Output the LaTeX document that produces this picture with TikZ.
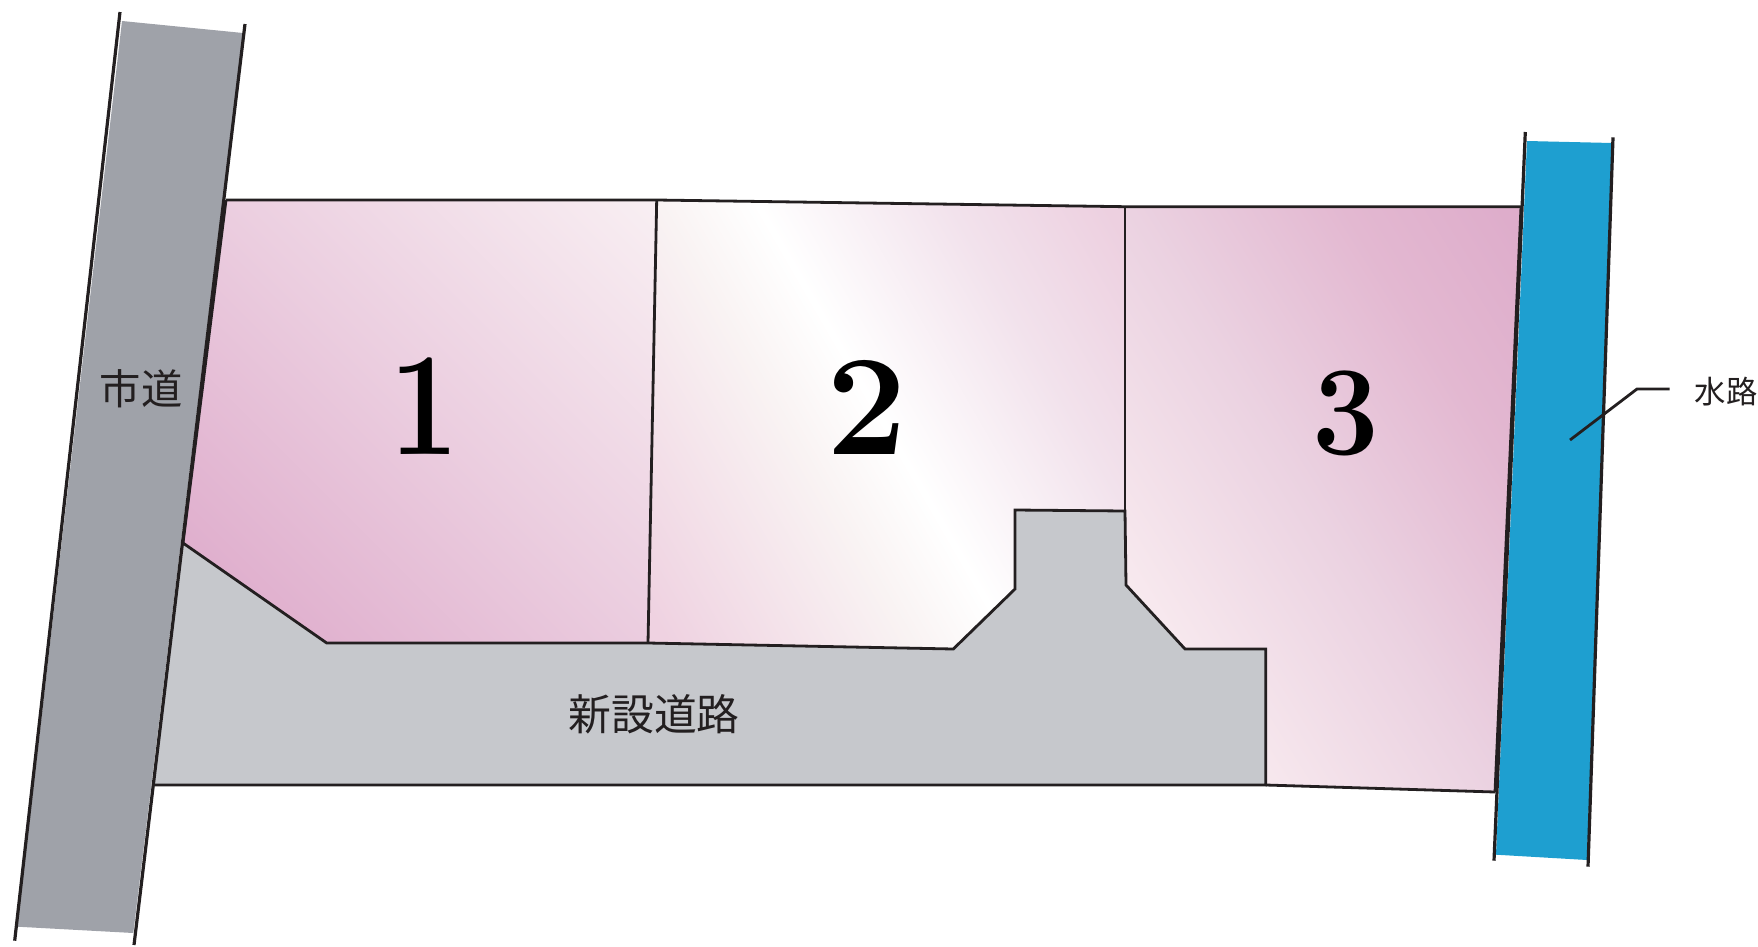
\documentclass[tikz,border=0pt]{standalone}
\usepackage{fontspec}
\newfontfamily\cjk{Noto Sans CJK JP}
\definecolor{ink}{HTML}{231F20}
\definecolor{roadgray}{HTML}{9FA2A9}
\definecolor{newroad}{HTML}{C6C8CC}
\definecolor{water}{HTML}{1E9FD0}
\definecolor{pinkA}{HTML}{E0B0CE}
\definecolor{pinkB}{HTML}{EBCDDF}
\definecolor{pinkC}{HTML}{F8EEF2}
\definecolor{pinkD}{HTML}{EFD2E1}
\definecolor{pinkE}{HTML}{F9F3F3}
\definecolor{pinkF}{HTML}{F2E2EC}
\definecolor{pinkG}{HTML}{EDD0E0}
\definecolor{pinkH}{HTML}{F8EAEF}
\definecolor{pinkI}{HTML}{EBD2E1}
\definecolor{pinkJ}{HTML}{E3B8D1}
\definecolor{pinkK}{HTML}{DEADCB}
\pgfdeclarehorizontalshading{lotone}{100bp}{color(0bp)=(pinkA); color(34.6bp)=(pinkA); color(50.4bp)=(pinkB); color(69.7bp)=(pinkC); color(100bp)=(pinkC)}
\pgfdeclarehorizontalshading{lottwo}{100bp}{color(0bp)=(pinkD); color(28.7bp)=(pinkD); color(43.9bp)=(pinkE); color(50bp)=(white); color(62bp)=(pinkF); color(71.6bp)=(pinkG); color(100bp)=(pinkG)}
\pgfdeclarehorizontalshading{lotthree}{100bp}{color(0bp)=(pinkH); color(36.6bp)=(pinkH); color(49.6bp)=(pinkI); color(61bp)=(pinkJ); color(69.4bp)=(pinkK); color(100bp)=(pinkK)}

\begin{document}
\begin{tikzpicture}[
  x=1bp,y=-1bp,
  edge/.style={draw=ink,line width=2.8bp,line join=miter},
  heavy/.style={draw=ink,line width=3.2bp},
  lotnum/.style={text=black,anchor=base,inner sep=0pt},
  kanji/.style={text=ink,inner sep=0pt}
]
\useasboundingbox (0,0) rectangle (1758,946);

% lots
\begin{scope}
\clip (226,200)--(656.7,200)--(648,643)--(326.7,643)--(183,543)--cycle;
\shade[shading=lotone,shading angle=45] (20,20) rectangle (820,820);
\end{scope}
\begin{scope}
\clip (656.7,200)--(1125,206.7)--(1125,511)--(1015,510)--(1015,589)--(953.3,649)--(648,643)--cycle;
\shade[shading=lottwo,shading angle=30] (535,75) rectangle (1235,775);
\end{scope}
\begin{scope}
\clip (1125,206.7)--(1521,206.7)--(1495,792)--(1266,785)--(1266,649)--(1185,649)--(1126,585)--cycle;
\shade[shading=lotthree,shading angle=32] (920,100) rectangle (1720,900);
\end{scope}

% new road
\fill[newroad] (183,543)--(326.7,643)--(648,643)--(953.3,649)--(1015,589)--(1015,510)--(1125,511)--(1126,585)--(1185,649)--(1265.7,649)--(1265.7,785)--(154,785)--cycle;

\draw[edge] (226,200)--(656.7,200)--(1125,206.7)--(1521,206.7);
\draw[edge] (656.7,200)--(648,643);
\draw[edge] (1125,206.7)--(1125,511);
\draw[edge] (183,543)--(326.7,643)--(648,643)--(953.3,649)--(1015,589)--(1015,510)--(1125,511)--(1126,585)--(1185,649)--(1265.7,649)--(1265.7,785)--(154,785);
\draw[edge] (1265.7,785)--(1495,792);
\draw[edge] (226,200)--(183,543);
\draw[edge] (1521,206.7)--(1495,792);

% city road
\fill[roadgray] (122,21)--(243,33)--(133.3,933)--(17.3,926.7)--cycle;
\draw[heavy] (120,12)--(14.7,940.7);
\draw[heavy] (245,24)--(134,945);

% channel
\fill[water] (1527,141)--(1612,143)--(1587,860)--(1496,854.7)--cycle;
\draw[heavy] (1525.3,132)--(1494,860.7);
\draw[heavy] (1613,137.3)--(1588,866.7);

\node[lotnum,xscale=0.84,transform shape,font=\fontsize{148}{148}\selectfont\bfseries] (lotA) at (424,454) {1};
\node[lotnum,font=\fontsize{144}{144}\selectfont\bfseries] (lotB) at (867,454) {2};
\node[lotnum,xscale=0.93,transform shape,font=\fontsize{128}{128}\selectfont\bfseries] (lotC) at (1346,454) {3};

\node[kanji,font=\fontsize{41.5}{41.5}\selectfont\cjk] (cityroad) at (141,389) {市道};
\node[kanji,font=\fontsize{43}{43}\selectfont\cjk] (newway) at (654,714) {新設道路};
\node[kanji,font=\fontsize{31.5}{31.5}\selectfont\cjk] (channel) at (1726,392) {水路};

\coordinate (tipA) at (1570,440);
\coordinate (tipB) at (1637,389);
\coordinate (tipC) at (1669.5,389);
\draw[edge] (tipA)--(tipB)--(tipC);

\end{tikzpicture}
\end{document}
